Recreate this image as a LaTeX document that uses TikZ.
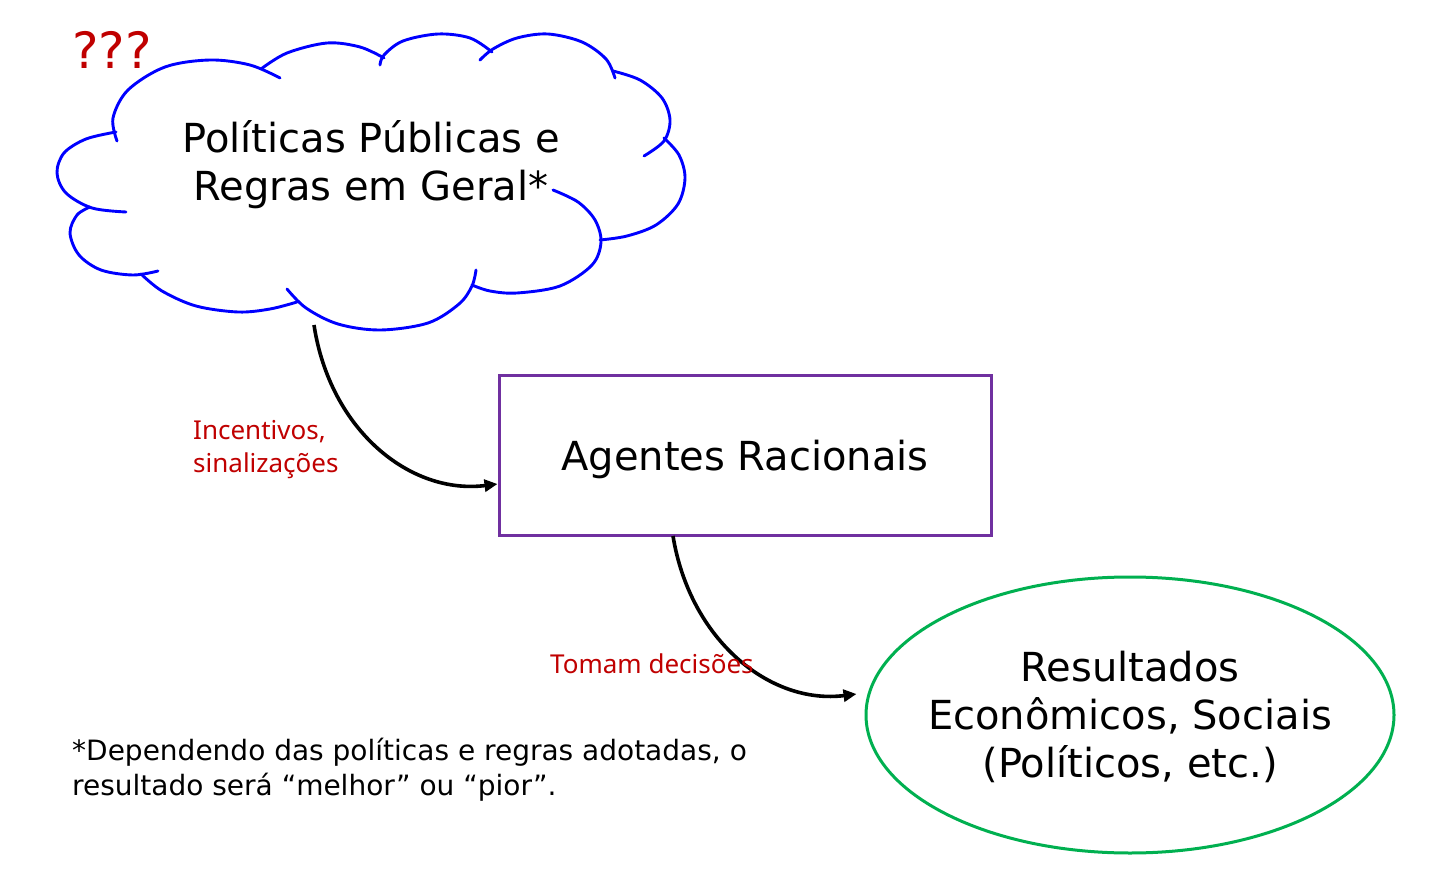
\documentclass[tikz,border=0pt]{standalone}
\usepackage{fontspec}
\setmainfont{DejaVu Sans}
\newfontfamily\redfont{Noto Sans}
\usetikzlibrary{shapes.geometric,arrows.meta}
\definecolor{cloudblue}{RGB}{0,0,255}
\definecolor{boxpurple}{RGB}{112,48,160}
\definecolor{ellgreen}{RGB}{0,176,80}
\definecolor{lblred}{RGB}{192,0,0}
\tikzset{
  bump/.style={draw=cloudblue, line width=2.9pt, line cap=round},
  conn/.style={draw=black, line width=3.6pt, -{Triangle[length=13pt,width=12pt]}},
  maintext/.style={font=\fontsize{40}{48}\selectfont, align=center, text=black},
  redlbl/.style={font=\redfont\fontsize{26}{33}\selectfont, text=lblred, align=left, anchor=base west},
}
\begin{document}
\begin{tikzpicture}[x=1pt,y=-1pt]
\useasboundingbox[fill=white] (0,0) rectangle (1456,874);
% cloud bumps
\draw[bump] plot[smooth,tension=0.55] coordinates {(117,141) (113,118) (128,90) (165,67) (210,60) (250,65) (280,78)};
\draw[bump] plot[smooth,tension=0.55] coordinates {(261,69) (287,53) (327,43) (360,47) (384,58)};
\draw[bump] plot[smooth,tension=0.55] coordinates {(380,65) (384,55) (403,41) (438,34) (470,38) (492,52)};
\draw[bump] plot[smooth,tension=0.55] coordinates {(480,60) (493,49) (517,38) (548,34) (582,42) (606,59) (615,78)};
\draw[bump] plot[smooth,tension=0.55] coordinates {(613,71) (640,80) (662,98) (670,120) (664,141) (644,156)};
\draw[bump] plot[smooth,tension=0.55] coordinates {(664,138) (679,155) (685,178) (678,204) (656,225) (627,236) (600,240)};
\draw[bump] plot[smooth,tension=0.55] coordinates {(553,190) (578,202) (595,220) (601,242) (592,265) (560,286) (517,293) (490,291) (472,285)};
\draw[bump] plot[smooth,tension=0.55] coordinates {(476,270) (472,286) (459,304) (428,323) (380,330) (338,324) (306,308) (287,289)};
\draw[bump] plot[smooth,tension=0.55] coordinates {(297,302) (270,309) (238,312) (196,306) (162,291) (141,274)};
\draw[bump] plot[smooth,tension=0.55] coordinates {(158,271) (133,275) (101,270) (79,255) (70,233) (77,215) (90,207)};
\draw[bump] plot[smooth,tension=0.55] coordinates {(126,212) (92,208) (66,193) (57,173) (64,153) (86,139) (116,132)};
\node[maintext, anchor=base] (cloud) at (371,201) {Políticas Públicas e\\Regras em Geral*};
\node[font=\fontsize{50}{50}\selectfont, text=lblred, anchor=base west, inner sep=0pt] (qqq) at (72,69) {???};
% box
\node[draw=boxpurple, line width=3pt, minimum width=492pt, minimum height=159pt, inner sep=0pt] (agents) at (745,455.5) {};
\node[maintext, anchor=base] (agentstxt) at (745,470) {Agentes Racionais};
% ellipse
\node[draw=ellgreen, line width=3pt, ellipse, minimum width=528pt, minimum height=276pt, inner sep=0pt] (results) at (1130,715) {};
\node[maintext, anchor=base] (restxt) at (1130,777) {Resultados\\Econômicos, Sociais\\(Políticos, etc.)};
% connectors
\coordinate (c1s) at (314,325);
\coordinate (c2s) at (673,536);
\coordinate (c2e) at ([xshift=-8pt]results.west |- 0,694);
\draw[conn] (c1s) .. controls (330,430) and (410,495) .. (agents.west |- 0,484);
\draw[conn] (c2s) .. controls (690,640) and (770,705) .. (c2e);
% labels
\node[redlbl, inner sep=0pt] (lbl1) at (193,472) {Incentivos,\\sinalizações};
\node[redlbl, inner sep=0pt] (lbl2) at (550,673) {Tomam decisões};
% footnote
\node[font=\fontsize{28}{35}\selectfont, align=left, anchor=base west, inner sep=0pt] (foot) at (72,795) {*Dependendo das políticas e regras adotadas, o\\resultado será “melhor” ou “pior”.};
\end{tikzpicture}
\end{document}
